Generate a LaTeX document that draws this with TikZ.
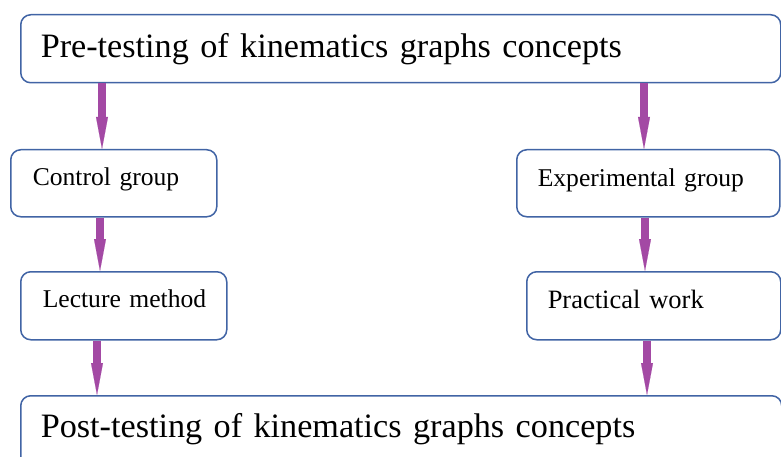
\documentclass[tikz,border=0pt]{standalone}
\usepackage{fontspec}
\setmainfont{Liberation Serif}
\usetikzlibrary{arrows.meta}
\definecolor{boxblue}{RGB}{65,100,165}
\definecolor{arrpurple}{RGB}{163,73,164}
\begin{document}
\begin{tikzpicture}[x=1pt,y=-1pt,
  box/.style={draw=boxblue, line width=1.5pt, rounded corners=10pt, anchor=north west,
    align=left, inner ysep=0pt, fill=white},
  bigtext/.style={font=\fontsize{34.2}{40}\selectfont},
  smalltext/.style={font=\fontsize{25.6}{30}\selectfont},
  flow/.style={draw=arrpurple, line width=8pt,
    -{Triangle[width=12pt,length=32pt,line width=0.1pt]}},
]
\useasboundingbox (0,0) rectangle (781,457);
\node[box, bigtext, inner xsep=20pt, text width=720pt, minimum height=68pt,
  text height=23pt, text depth=5pt] (pre) at (20,14) {\mbox{Pre-testing of kinematics graphs concepts}};
\node[box, smalltext, inner xsep=22pt, text width=162pt, minimum height=67pt,
  text height=15pt, text depth=10pt] (ctrl) at (10,149) {\mbox{Control group}};
\node[box, smalltext, inner xsep=21pt, text width=221pt, minimum height=67pt,
  text height=16pt, text depth=9pt] (exp) at (516,149) {\mbox{Experimental group}};
\node[box, smalltext, inner xsep=22pt, text width=162pt, minimum height=68pt,
  text height=15pt, text depth=11pt] (lect) at (20,271) {\mbox{Lecture method}};
\node[box, font=\fontsize{26.5}{31}\selectfont, inner xsep=21pt, text width=212pt, minimum height=68pt,
  text height=18pt, text depth=12pt] (prac) at (526,271) {\mbox{Practical work}};
\node[box, bigtext, inner xsep=20pt, text width=721pt, minimum height=84pt,
  text height=15pt, text depth=15pt] (post) at (20,395) {\mbox{Post-testing of kinematics graphs concepts}};
\coordinate (a1) at (102,0);
\coordinate (a2) at (644,0);
\coordinate (b1) at (100,0);
\coordinate (b2) at (645,0);
\coordinate (c1) at (97,0);
\coordinate (c2) at (647,0);
\draw[flow] (pre.south -| a1) -- (ctrl.north -| a1);
\draw[flow] (pre.south -| a2) -- (exp.north -| a2);
\draw[flow] (ctrl.south -| b1) -- (lect.north -| b1);
\draw[flow] (exp.south -| b2) -- (prac.north -| b2);
\draw[flow] (lect.south -| c1) -- (post.north -| c1);
\draw[flow] (prac.south -| c2) -- (post.north -| c2);
\end{tikzpicture}
\end{document}
